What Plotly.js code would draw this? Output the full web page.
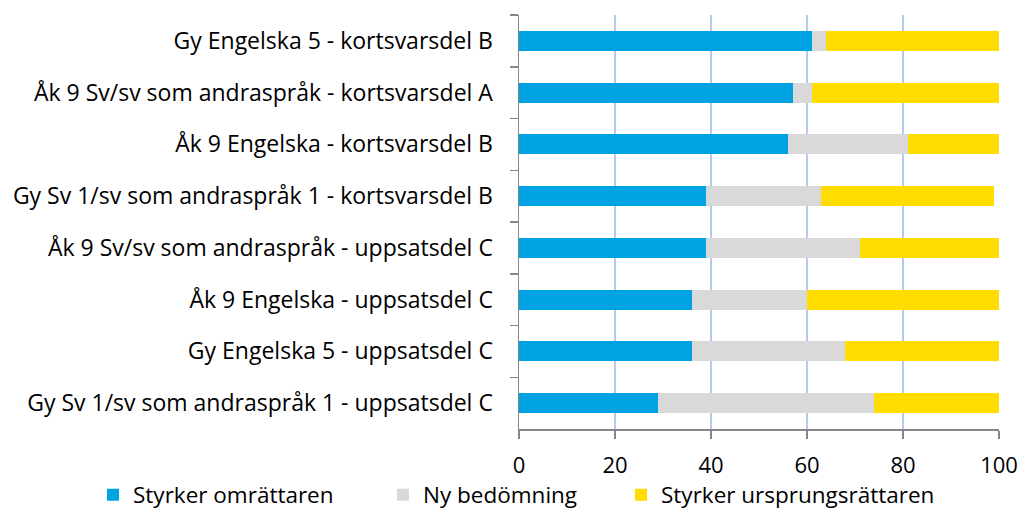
<!DOCTYPE html>
<html>
<head>
<meta charset="utf-8">
<script src="https://cdn.plot.ly/plotly-3.0.1.min.js"></script>
<style>html,body{margin:0;padding:0;background:#fff;}#chart{width:1022px;height:510px;}</style>
</head>
<body>
<div id="chart"></div>
<script>
const categories = [
  "Gy Engelska 5 - kortsvarsdel B",
  "Åk 9 Sv/sv som andraspråk - kortsvarsdel A",
  "Åk 9 Engelska - kortsvarsdel B",
  "Gy Sv 1/sv som andraspråk 1 - kortsvarsdel B",
  "Åk 9 Sv/sv som andraspråk - uppsatsdel C",
  "Åk 9 Engelska - uppsatsdel C",
  "Gy Engelska 5 - uppsatsdel C",
  "Gy Sv 1/sv som andraspråk 1 - uppsatsdel C"
];
const seriesNames = ["Styrker omrättaren", "Ny bedömning", "Styrker ursprungsrättaren"];
const styrkerOmrattaren = [61, 57, 56, 39, 39, 36, 36, 29];
const nyBedomning = [3, 4, 25, 24, 32, 24, 32, 45];
const styrkerUrsprungsrattaren = [36, 39, 19.5, 36, 29, 40, 32, 26];
const xTicks = [0, 20, 40, 60, 80, 100];

const colors = ["#00a3e1", "#d9d9d9", "#ffdd00"];
const values = [styrkerOmrattaren, nyBedomning, styrkerUrsprungsrattaren];
const legendIds = ["legend", "legend2", "legend3"];

const traces = values.map((v, i) => ({
  type: "bar",
  orientation: "h",
  name: seriesNames[i],
  x: v,
  y: categories,
  marker: {color: colors[i], line: {width: 0}},
  legend: legendIds[i],
  cliponaxis: false,
  hoverinfo: "x+name"
}));

const FONT = "'Open Sans', 'Noto Sans', sans-serif";
function legendAt(xpx) {
  return {
    orientation: "h",
    xref: "container", yref: "container",
    x: xpx / 1022, xanchor: "left",
    y: 1 - 495 / 510, yanchor: "middle",
    font: {family: FONT, size: 22.5, color: "#000"},
    bgcolor: "rgba(0,0,0,0)",
    borderwidth: 0
  };
}

const layout = {
  width: 1022, height: 510,
  margin: {l: 519, r: 23, t: 15, b: 81, pad: 0},
  barmode: "stack",
  bargap: 0.61,
  paper_bgcolor: "#fff",
  plot_bgcolor: "#fff",
  font: {family: FONT, color: "#000"},
  showlegend: true,
  legend: legendAt(93),
  legend2: legendAt(383),
  legend3: legendAt(621),
  xaxis: {
    range: [0, 100],
    tickvals: xTicks,
    ticktext: xTicks.map(String),
    showgrid: true,
    gridcolor: "#b8c8e8",
    gridwidth: 2,
    zeroline: false,
    showline: true,
    linecolor: "#868686",
    linewidth: 1.5,
    ticks: "outside",
    ticklen: 8,
    tickwidth: 1.5,
    tickcolor: "#868686",
    tickfont: {family: FONT, size: 22, color: "#000"},
    ticklabelstandoff: 8,
    fixedrange: true
  },
  yaxis: {
    type: "category",
    autorange: "reversed",
    showgrid: false,
    zeroline: false,
    showline: true,
    linecolor: "#868686",
    linewidth: 1.5,
    ticks: "outside",
    tickson: "boundaries",
    ticklen: 8,
    tickwidth: 1.5,
    tickcolor: "#868686",
    tickfont: {family: FONT, size: 23, color: "#000"},
    ticklabelstandoff: 20,
    fixedrange: true
  }
};

Plotly.newPlot("chart", traces, layout, {displayModeBar: false, staticPlot: true});
</script>
</body>
</html>
